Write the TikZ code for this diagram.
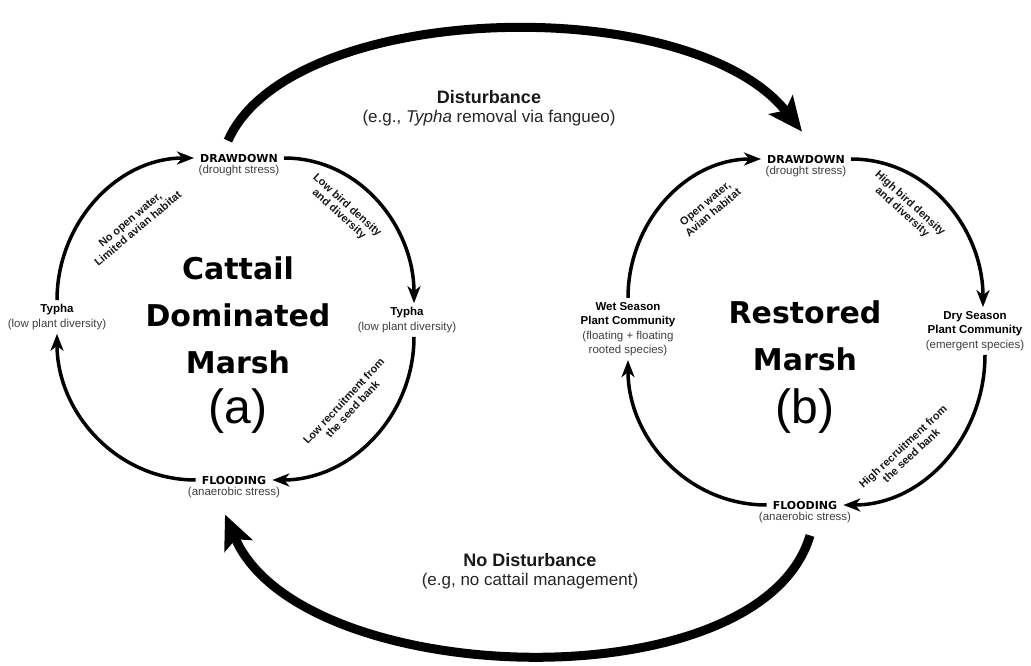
\documentclass[tikz,border=0pt]{standalone}
\usepackage{fontspec}
\setmainfont{Liberation Sans}
\newfontfamily\heavyfont{DejaVu Sans}
\usetikzlibrary{arrows.meta,positioning}
\newcommand{\sub}[1]{{\color{black!75}#1}}
\tikzset{
  stage/.style={font=\heavyfont\bfseries\fontsize{11}{13}\selectfont, inner xsep=6pt, inner ysep=1pt},
  note/.style={font=\fontsize{11.5}{14}\selectfont, text=black!75, inner sep=0pt},
  plant/.style={align=center, font=\fontsize{11.5}{14.5}\selectfont, inner sep=4pt},
  cyc/.style={line width=3.5pt, -{Stealth[length=17pt,width=13pt,inset=5pt]}},
  big/.style={line width=9pt, -{Stealth[length=34pt,width=30pt,inset=7pt]}},
  lbl/.style={align=center, font=\bfseries\fontsize{11}{12}\selectfont, text=black!90, inner sep=1pt},
  title/.style={align=center, font=\heavyfont\bfseries\fontsize{30}{47}\selectfont},
  tag/.style={font=\fontsize{48}{50}\selectfont},
  head/.style={font=\bfseries\fontsize{18}{20}\selectfont, text=black!90},
  eg/.style={font=\fontsize{17}{20}\selectfont, text=black!85, inner sep=1pt}
}
\begin{document}
\begin{tikzpicture}[x=1pt,y=1pt]
	\useasboundingbox[fill=white] (0,0) rectangle (1031,665);
	% cattail dominated marsh
	\node[stage] (drawA) at (239,507) {DRAWDOWN};
	\node[note, below=2pt of drawA] (drawAn) {(drought stress)};
	\node[plant] (typhaA) at (407,345) {\textbf{Typha}\\\sub{(low plant diversity)}};
	\node[stage] (floodA) at (234,185) {FLOODING};
	\node[note, below=2pt of floodA] (floodAn) {(anaerobic stress)};
	\node[plant] (typhaL) at (57,348) {\textbf{Typha}\\\sub{(low plant diversity)}};
	\node[title] (cattail) at (238,350) {Cattail\\Dominated\\Marsh};
	\node[tag] (tagA) at (238,254) {(a)};
	\draw[cyc] (typhaL.north) to[out=90,in=180] (drawA.west);
	\draw[cyc] (drawA.east) to[out=0,in=90] ([xshift=7pt]typhaA.north);
	\draw[cyc] ([xshift=7pt]typhaA.south) to[out=-90,in=0] (floodA.east);
	\draw[cyc] (floodA.west) to[out=180,in=-90] (typhaL.south);
	\node[lbl, rotate=40] at (134,441) {No open water,\\Limited avian habitat};
	\node[lbl, rotate=-42] at (343,455) {Low bird density\\and diversity};
	\node[lbl, rotate=47] at (348,260) {Low recruitment from\\the seed bank};
	% restored marsh
	\node[stage] (drawB) at (806,506) {DRAWDOWN};
	\node[note, below=2pt of drawB] (drawBn) {(drought stress)};
	\node[plant] (dryB) at (975,334) {\textbf{Dry Season}\\\textbf{Plant Community}\\\sub{(emergent species)}};
	\node[stage] (floodB) at (805,160) {FLOODING};
	\node[note, below=2pt of floodB] (floodBn) {(anaerobic stress)};
	\node[plant] (wetB) at (628,336) {\textbf{Wet Season}\\\textbf{Plant Community}\\\sub{(floating + floating}\\\sub{rooted species)}};
	\node[title] (restored) at (805,329) {Restored\\Marsh};
	\node[tag] (tagB) at (805,254) {(b)};
	\draw[cyc] (wetB.north) to[out=90,in=180] (drawB.west);
	\draw[cyc] (drawB.east) to[out=0,in=90] ([xshift=8pt]dryB.north);
	\draw[cyc] ([xshift=10pt]dryB.south) to[out=-90,in=0] (floodB.east);
	\draw[cyc] (floodB.west) to[out=180,in=-90] (wetB.south);
	\node[lbl, rotate=40] at (709,457) {Open water,\\Avian habitat};
	\node[lbl, rotate=-42] at (906,457) {High bird density\\and diversity};
	\node[lbl, rotate=43] at (907,214) {High recruitment from\\the seed bank};
	% shifts between states
	\draw[big] ([xshift=-11pt,yshift=12pt]drawA.north) .. controls (290,665) and (690,675) .. ([xshift=-4pt,yshift=22pt]drawB.north);
	\draw[big] ([xshift=5pt,yshift=-12pt]floodBn.south) .. controls (760,-40) and (300,-25) .. ([xshift=-9pt,yshift=-16pt]floodAn.south);
	\node[head] (dist) at (489,568) {Disturbance};
	\node[eg, below=2pt of dist] {(e.g., \textit{Typha} removal via fangueo)};
	\node[head] (nodist) at (530,105) {No Disturbance};
	\node[eg, below=2pt of nodist] {(e.g, no cattail management)};
\end{tikzpicture}
\end{document}
